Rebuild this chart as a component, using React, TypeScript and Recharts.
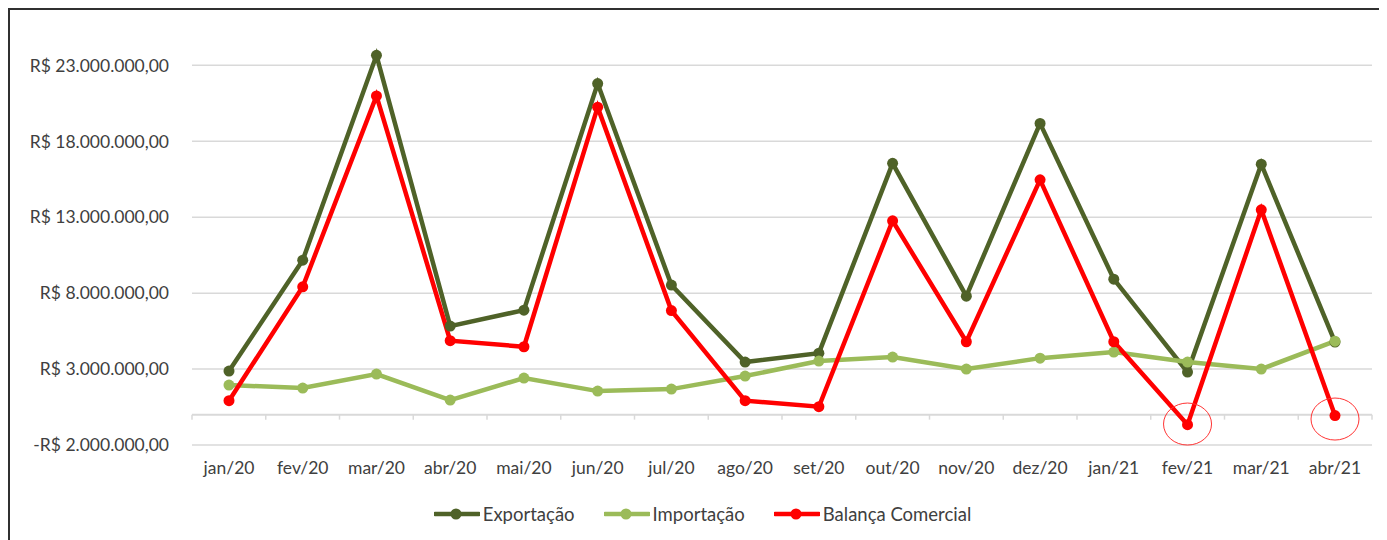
import React from 'react';
import { LineChart, Line, XAxis, YAxis, CartesianGrid, ReferenceLine, ReferenceDot, Legend } from 'recharts';

const months = ['jan/20', 'fev/20', 'mar/20', 'abr/20', 'mai/20', 'jun/20', 'jul/20', 'ago/20', 'set/20', 'out/20', 'nov/20', 'dez/20', 'jan/21', 'fev/21', 'mar/21', 'abr/21'];
const exportacao = [2870000, 10170000, 23660000, 5830000, 6880000, 21800000, 8530000, 3460000, 4050000, 16550000, 7800000, 19180000, 8920000, 2800000, 16490000, 4780000];
const importacao = [1950000, 1750000, 2670000, 960000, 2410000, 1550000, 1680000, 2540000, 3530000, 3790000, 3000000, 3720000, 4120000, 3460000, 3000000, 4840000];
const balanca = [920000, 8420000, 20990000, 4870000, 4470000, 20250000, 6850000, 920000, 520000, 12760000, 4800000, 15460000, 4800000, -660000, 13490000, -60000];
const yTicks = [-2000000, 3000000, 8000000, 13000000, 18000000, 23000000];
const yDomain = [-2000000, 25000000];
const highlights = [{ month: 'fev/21', value: -620000 }, { month: 'abr/21', value: -290000 }];

const series = [
  { key: 'exp', name: 'Exportação', color: '#4F6228' },
  { key: 'imp', name: 'Importação', color: '#9BBB59' },
  { key: 'bal', name: 'Balança Comercial', color: '#FF0000' },
];

const data = months.map((m, i) => ({ month: m, exp: exportacao[i], imp: importacao[i], bal: balanca[i] }));

const fmt = (v: number) => {
  const abs = Math.abs(v);
  const s = abs.toFixed(0).replace(/\B(?=(\d{3})+(?!\d))/g, '.');
  return (v < 0 ? '-' : '') + 'R$ ' + s + ',00';
};

const FONT = 'Lato, Carlito, Calibri, sans-serif';

const ZeroAxis = (p: any) => {
  const { x1, x2, y1 } = p;
  const n = months.length;
  const step = (x2 - x1) / n;
  const ticks = [];
  for (let i = 0; i <= n; i++) {
    const x = x1 + i * step;
    ticks.push(<line key={i} x1={x} x2={x} y1={y1} y2={y1 + 5} stroke="#D9D9D9" strokeWidth={1.5} />);
  }
  return (
    <g>
      <line x1={x1} x2={x2} y1={y1} y2={y1} stroke="#D9D9D9" strokeWidth={2} />
      {ticks}
    </g>
  );
};

const Ellipse = (p: any) => (
  <ellipse cx={p.cx} cy={p.cy} rx={24} ry={21} fill="none" stroke="#FF3333" strokeWidth={1} />
);

const LegendContent = () => (
  <div style={{ display: 'flex', justifyContent: 'center', alignItems: 'center', height: 24, paddingLeft: 52, fontFamily: FONT, fontSize: 18.5, color: '#404040' }}>
    {series.map((s) => (
      <div key={s.key} style={{ display: 'flex', alignItems: 'center', marginRight: 29 }}>
        <svg width={46} height={14} style={{ marginRight: 3 }}>
          <line x1={1} x2={45} y1={7} y2={7} stroke={s.color} strokeWidth={4.5} strokeLinecap="round" />
          <circle cx={22} cy={7} r={5.5} fill={s.color} />
        </svg>
        <span>{s.name}</span>
      </div>
    ))}
  </div>
);

const gridRows = (props: any) => {
  const s = props && props.yAxis && props.yAxis.scale;
  if (typeof s === 'function') return yTicks.map((t) => s(t));
  if (s && typeof s.map === 'function') return yTicks.map((t) => s.map(t));
  const off = props && props.offset;
  if (!off) return [];
  return yTicks.map((t) => off.top + (off.height * (yDomain[1] - t)) / (yDomain[1] - yDomain[0]));
};

export default function App() {
  return (
    <div style={{ position: 'relative', width: 1379, height: 532, borderTop: '2px solid #303030', borderLeft: '2px solid #303030', boxSizing: 'border-box', overflow: 'hidden' }}>
      <div style={{ position: 'absolute', left: 0, top: 0 }}>
        <LineChart width={1377} height={530} data={data} margin={{ top: 25, right: 15, bottom: 14, left: 0 }}>
          <CartesianGrid horizontal={true} vertical={false} stroke="#D9D9D9" strokeWidth={1.5}
            horizontalCoordinatesGenerator={gridRows} />
          <XAxis dataKey="month" axisLine={false} tickLine={false} tickSize={0} tickMargin={17} height={57} interval={0}
            padding={{ left: 37, right: 37 }}
            tick={{ fontFamily: FONT, fontSize: 17.5, fill: '#404040' }} />
          <YAxis domain={yDomain} ticks={yTicks} tickFormatter={fmt} axisLine={false} tickLine={false}
            tickSize={0} tickMargin={23} width={182} interval={0}
            tick={{ fontFamily: FONT, fontSize: 17.5, fill: '#404040' }} />
          <ReferenceLine y={0} shape={ZeroAxis} />
          {series.map((s) => (
            <Line key={s.key} type="linear" dataKey={s.key} name={s.name} stroke={s.color} strokeWidth={4.5}
              dot={{ r: 5.5, fill: s.color, stroke: s.color, strokeWidth: 0 }} isAnimationActive={false} />
          ))}
          {highlights.map((h) => (
            <ReferenceDot key={h.month} x={h.month} y={h.value} r={22} shape={Ellipse} />
          ))}
          <Legend verticalAlign="bottom" height={24} content={LegendContent} />
        </LineChart>
      </div>
    </div>
  );
}
